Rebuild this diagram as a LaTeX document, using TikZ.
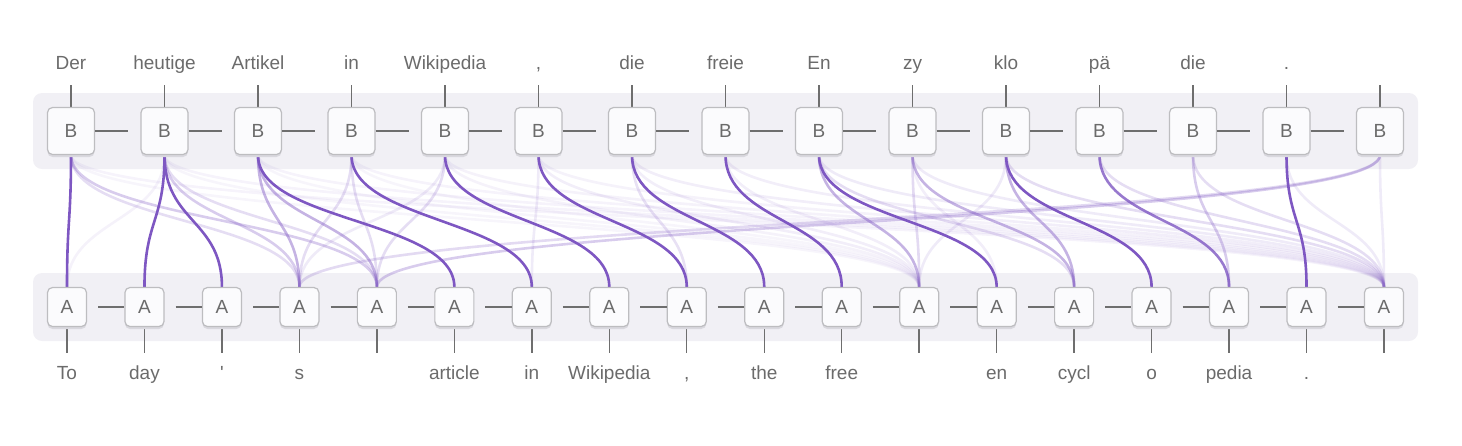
\documentclass[tikz,border=0pt]{standalone}
\usepackage{fontspec}
\setmainfont{Liberation Sans}
\usetikzlibrary{shadows}
\definecolor{panelc}{HTML}{F1F0F5}
\definecolor{boxfill}{HTML}{FBFBFD}
\definecolor{boxline}{HTML}{BDBDC0}
\definecolor{shadowc}{HTML}{D9D8DE}
\definecolor{txt}{HTML}{6B6B6B}
\definecolor{wirec}{HTML}{6E6E6E}
\definecolor{purp}{HTML}{7E57C2}
\pgfdeclarelayer{panel}
\pgfdeclarelayer{links}
\pgfsetlayers{panel,links,main}
\begin{document}
\begin{tikzpicture}[x=1pt,y=-1pt,
  lbl/.style={font=\fontsize{19}{22}\selectfont, text=txt},
  bbox/.style={lbl, draw=boxline, fill=boxfill, rounded corners=5pt, line width=1.2pt, inner sep=0pt, minimum size=47pt,
    drop shadow={shadow xshift=0pt, shadow yshift=-2.5pt, fill=shadowc, opacity=1}},
  abox/.style={bbox, minimum size=39pt},
  tok/.style={lbl, anchor=base, inner sep=0pt},
  wire/.style={draw=wirec, line width=1.4pt},
  link/.style={draw=purp, line width=2.6pt},
  panel/.style={fill=panelc, draw=none, rounded corners=9pt}]
\useasboundingbox (0,0) rectangle (1462,445);
\begin{pgfonlayer}{panel}
  \fill[panel] (33,93) rectangle (1418,169);
  \fill[panel] (33,273) rectangle (1418,341);
\end{pgfonlayer}
% top row
\foreach \w [count=\i from 0] in {Der,heutige,Artikel,in,Wikipedia,{,},die,freie,En,zy,klo,pä,die,.,{}}{
  \node[bbox] (B\i) at ({71+93.5*\i},131) {B};
  \node[tok] (lb\i) at ({71+93.5*\i},69.5) {\w};
  \coordinate (tb\i) at ({71+93.5*\i},85);
  \begin{pgfonlayer}{links}
    \draw[wire] (tb\i) -- (B\i.north);
  \end{pgfonlayer}
}
\foreach \i [evaluate=\i as \j using int(\i+1)] in {0,...,13}{
  \draw[wire] (B\i.east) -- ([xshift=-12pt]B\j.west);
}
% bottom row
\foreach \w [count=\i from 0] in {To,day,\textquotesingle,s,{},article,in,Wikipedia,{,},the,free,{},en,cycl,o,pedia,.,{}}{
  \node[abox] (A\i) at ({67+77.47*\i},307) {A};
  \node[tok] (la\i) at ({67+77.47*\i},379.5) {\w};
  \coordinate (ta\i) at ({67+77.47*\i},353);
  \begin{pgfonlayer}{links}
    \draw[wire] (A\i.south) -- (ta\i);
  \end{pgfonlayer}
}
\foreach \i [evaluate=\i as \j using int(\i+1)] in {0,...,16}{
  \draw[wire] ([xshift=11pt]A\i.east) -- (A\j.west);
}
% attention links
\begin{pgfonlayer}{links}
\foreach \b/\a/\o in {
  0/17/0.07,1/17/0.07,2/17/0.07,3/17/0.07,4/17/0.08,5/17/0.08,
  0/11/0.06,1/11/0.06,2/11/0.06,3/11/0.06,
  5/6/0.12,4/3/0.12,1/0/0.08,9/17/0.12,8/17/0.12,7/17/0.1,6/17/0.1,13/17/0.12,14/17/0.12,
  10/11/0.12,7/11/0.1,6/11/0.1,5/11/0.1,4/11/0.08,9/12/0.1,
  14/3/0.22,0/3/0.2,1/4/0.2,3/3/0.2,3/4/0.2,4/4/0.2,9/11/0.22,6/8/0.18,
  11/17/0.2,12/17/0.2,10/17/0.2,8/13/0.2,
  1/3/0.3,0/4/0.3,14/4/0.3,12/15/0.3,
  2/3/0.45,2/4/0.45,8/11/0.45,9/13/0.45,10/13/0.45,
  11/15/0.8,
  0/0/1,1/1/1,1/2/1,2/5/1,3/6/1,4/7/1,5/8/1,6/9/1,7/10/1,8/12/1,10/14/1,13/16/1}{
  \draw[link, draw opacity=\o] (B\b.south) .. controls +(0,67) and +(0,-67) .. (A\a.north);
}
\end{pgfonlayer}
\end{tikzpicture}
\end{document}
